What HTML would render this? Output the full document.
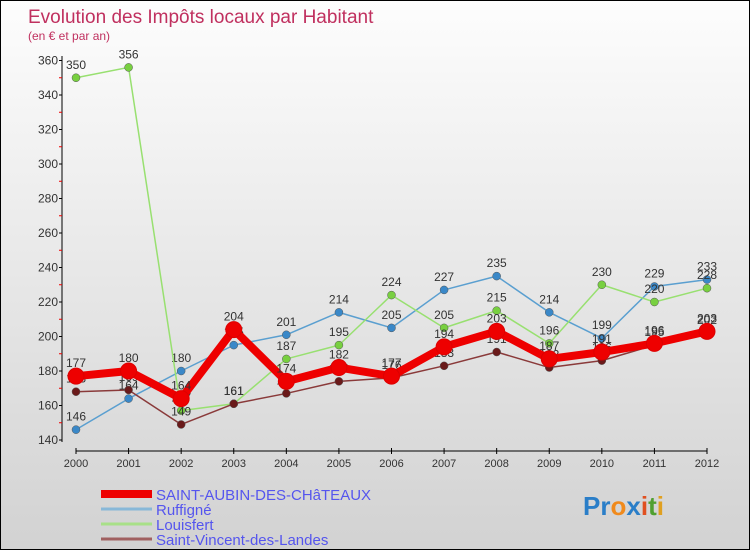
<!DOCTYPE html>
<html><head><meta charset="utf-8"><style>
html,body{margin:0;padding:0}
body{width:750px;height:550px;overflow:hidden;font-family:"Liberation Sans",sans-serif}
#wrap{position:relative;width:748px;height:548px;border:1px solid #000;background:linear-gradient(#fdfdfd,#d2d2d2)}
svg{position:absolute;left:0;top:0}
</style></head><body>
<div id="wrap">
<svg id="chart" width="750" height="550">
<text x="27" y="22" font-size="19" fill="#c0305f">Evolution des Impôts locaux par Habitant</text>
<text x="27" y="39" font-size="12" fill="#c0305f">(en € et par an)</text>
<g id="axes"></g><g id="series"></g><g id="legend"></g>
<text x="582" y="514" font-size="26" font-weight="bold"><tspan fill="#2a7ec8">Pr</tspan><tspan fill="#f08a1c">o</tspan><tspan fill="#2a7ec8">x</tspan><tspan fill="#e05020">i</tspan><tspan fill="#50a030">t</tspan><tspan fill="#e0a020">i</tspan></text>
</svg></div>
<script>
const years=["2000","2001","2002","2003","2004","2005","2006","2007","2008","2009","2010","2011","2012"];
const yTicks=[140,160,180,200,220,240,260,280,300,320,340,360];
const seriesNames=["SAINT-AUBIN-DES-CHâTEAUX","Ruffigné","Louisfert","Saint-Vincent-des-Landes"];
const saintAubin=[177,180,164,204,174,182,177,194,203,187,191,196,203];
const ruffigne=[146,164,180,195,201,214,205,227,235,214,199,229,233];
const louisfert=[350,356,157,161,187,195,224,205,215,196,230,220,228];
const saintVincent=[168,169,149,161,167,174,176,183,191,182,186,195,202];
const NS="http://www.w3.org/2000/svg";
function X(i){return 75+i*(706-75)/(years.length-1);}
function Y(v){return 439-(v-140)*(439-59.5)/220;}
function mk(t,a,p){const e=document.createElementNS(NS,t);for(const k in a)e.setAttribute(k,a[k]);p.appendChild(e);return e;}
const ax=document.getElementById('axes');
let yl=mk('line',{x1:61,y1:55,x2:61,y2:441,stroke:'#000'},ax);


yTicks.forEach((v,i)=>{
  mk('line',{x1:58,y1:Y(v),x2:61,y2:Y(v),stroke:'#000'},ax);
  if(i<yTicks.length-1) mk('line',{x1:58,y1:Y(v+10),x2:61,y2:Y(v+10),stroke:'#e00'},ax);
  const t=mk('text',{x:57,y:Y(v)+4,'font-size':12,fill:'#333','text-anchor':'end'},ax);
  t.textContent=v;
  
  
});
let xl=mk('line',{x1:75,y1:450,x2:706,y2:450,stroke:'#000'},ax);


years.forEach((y,i)=>{
  mk('line',{x1:X(i),y1:447,x2:X(i),y2:453,stroke:'#000'},ax);
  const t=mk('text',{x:X(i),y:466,'font-size':11,fill:'#333','text-anchor':'middle'},ax);
  t.textContent=y;
  
  
});
const defs=[
 {d:ruffigne,c:'#5a9fd0',dot:'#3a88c8',w:1.5,r:4,n:'ruffigne'},
 {d:louisfert,c:'#98e070',dot:'#78d040',w:1.5,r:4,n:'louisfert'},
 {d:saintVincent,c:'#8a3a3a',dot:'#6a1a1a',w:1.5,r:4,n:'saint-vincent'},
 {d:saintAubin,c:'#ee0000',dot:'#ee0000',w:8,r:8,n:'saint-aubin'}];
const sg=document.getElementById('series');
defs.forEach(s=>{
  const g=mk('g',{},sg);
  
  
  const p=mk('polyline',{points:s.d.map((v,i)=>X(i)+','+Y(v)).join(' '),fill:'none',stroke:s.c,'stroke-width':s.w,'stroke-linejoin':'round'},g);
  
  
  s.d.forEach((v,i)=>{
    const c=mk('circle',{cx:X(i),cy:Y(v),r:s.r,fill:s.dot,stroke:s.n==='saint-aubin'?'#d00':'#555','stroke-width':s.n==='saint-aubin'?1:0.5},g);
    
    
    const t=mk('text',{x:X(i),y:Y(v)-9,'font-size':12,fill:'#333','text-anchor':'middle'},g);
    t.textContent=v;
    
    
  });
});
const lg=document.getElementById('legend');
const lc=['#ee0000','#88b8d8','#a8e088','#a06060'],lw=[8,3,3,3];
seriesNames.forEach((n,i)=>{
  const y=493+i*15;
  const l=mk('line',{x1:100,y1:y,x2:151,y2:y,stroke:lc[i],'stroke-width':lw[i]},lg);
  
  
  const t=mk('text',{x:155,y:y+6,'font-size':15,fill:'#5555ee'},lg);
  t.textContent=n;
  
  
});
</script>
</body></html>
